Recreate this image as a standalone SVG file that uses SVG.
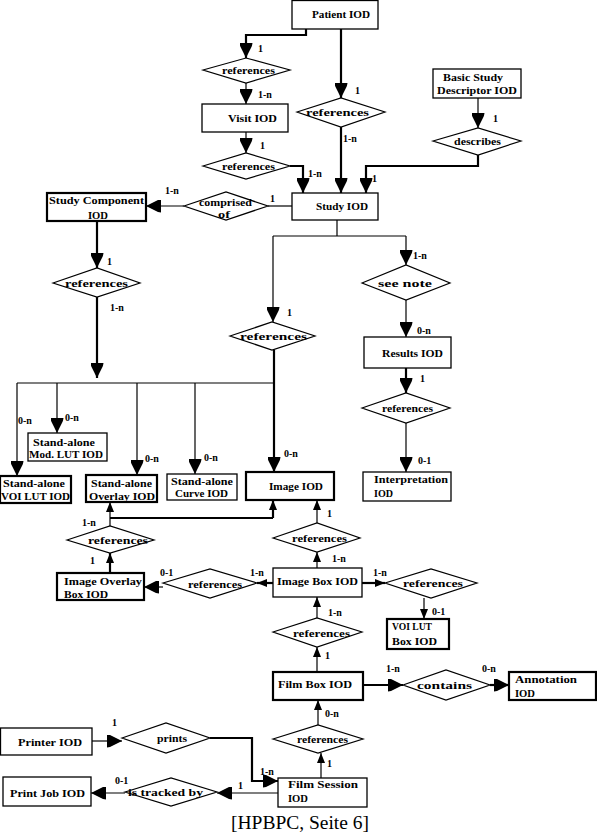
<svg xmlns="http://www.w3.org/2000/svg" width="597" height="835" viewBox="0 0 597 835">
<style>
.bx{fill:#fff;stroke:#000;stroke-width:1.3}
.bk{fill:#fff;stroke:#000;stroke-width:2.2}
.dm{fill:#fff;stroke:#000;stroke-width:1.2}
.t{font-family:"Liberation Serif","Times New Roman",serif;font-size:10.5px;font-weight:bold;fill:#000}
.l{font-family:"Liberation Serif","Times New Roman",serif;font-size:10px;font-weight:bold;fill:#000}
.c{fill:none;stroke:#000;stroke-width:1.2}
.w{fill:none;stroke:#000;stroke-width:2.2}
.cap{font-family:"Liberation Serif","Times New Roman",serif;font-size:18px;fill:#000}
</style>
<defs>
<marker id="a" markerUnits="userSpaceOnUse" markerWidth="15" markerHeight="13" viewBox="0 0 15 13" refX="15" refY="6.5" orient="auto">
<path d="M0,0 L3,0.6 L15,6.5 L3,12.4 L0,13 z" fill="#000"/>
</marker>
<marker id="s" markerUnits="userSpaceOnUse" markerWidth="10" markerHeight="8" viewBox="0 0 10 8" refX="10" refY="4" orient="auto">
<path d="M0,0 L10,4 L0,8 z" fill="#000"/>
</marker>
</defs>
<rect width="597" height="835" fill="#fff"/>

<g id="connectors">
<path class="w" d="M306,29 V35 H246 V58" marker-end="url(#a)"/>
<path class="c" d="M246,83 V104" marker-end="url(#a)"/>
<path class="c" d="M246,132 V153" marker-end="url(#a)"/>
<path class="w" d="M290,166 H303 V193" marker-end="url(#a)"/>
<path class="w" d="M341,29 V98" marker-end="url(#a)"/>
<path class="w" d="M341,127 V193" marker-end="url(#a)"/>
<path class="c" d="M478,98 V128" marker-end="url(#a)"/>
<path class="w" d="M478,155 V166 H366 V193" marker-end="url(#a)"/>
<path class="c" d="M184,206 H146" marker-end="url(#a)"/>
<path class="c" d="M292,206 H268"/>
<path class="w" d="M97,221 V268" marker-end="url(#a)"/>
<path class="w" d="M97,297 V378" marker-end="url(#a)"/>
<path class="c" d="M17,383 H274"/>
<path class="c" d="M17,383 V476" marker-end="url(#a)"/>
<path class="c" d="M57,383 V433" marker-end="url(#a)"/>
<path class="c" d="M137,383 V475" marker-end="url(#a)"/>
<path class="c" d="M195,383 V474" marker-end="url(#a)"/>
<path class="c" d="M337,220 V236 M273,236 H406"/>
<path class="c" d="M273,236 V322" marker-end="url(#a)"/>
<path class="w" d="M274,350 V472" marker-end="url(#a)"/>
<path class="c" d="M406,236 V265" marker-end="url(#a)"/>
<path class="c" d="M406,300 V337" marker-end="url(#a)"/>
<path class="w" d="M406,368 V393" marker-end="url(#a)"/>
<path class="c" d="M406,423 V472" marker-end="url(#a)"/>
<path class="w" d="M110,518 H273"/>
<path class="c" d="M110,526 V502" marker-end="url(#s)"/>
<path class="w" d="M273,518 V500" marker-end="url(#s)"/>
<path class="w" d="M110,573 V553" marker-end="url(#s)"/>
<path class="c" d="M163,587 H144" marker-end="url(#a)"/>
<path class="w" d="M273,583 H257" marker-end="url(#s)"/>
<path class="c" d="M317,568 V552" marker-end="url(#s)"/>
<path class="c" d="M317,523 V500" marker-end="url(#s)"/>
<path class="w" d="M362,583 H385" marker-end="url(#s)"/>
<path class="c" d="M424,598 V619" marker-end="url(#s)"/>
<path class="c" d="M317,618 V597" marker-end="url(#s)"/>
<path class="c" d="M317,672 V647" marker-end="url(#s)"/>
<path class="w" d="M363,685 H403" marker-end="url(#a)"/>
<path class="w" d="M490,685 H509" marker-end="url(#a)"/>
<path class="c" d="M318,725 V700" marker-end="url(#s)"/>
<path class="c" d="M321,778 V753" marker-end="url(#s)"/>
<path class="c" d="M92,741 H122" marker-end="url(#a)"/>
<path class="w" d="M210,738 H252 V781 H278" marker-end="url(#a)"/>
<path class="c" d="M278,793 H217" marker-end="url(#a)"/>
<path class="c" d="M125,793 H91" marker-end="url(#a)"/>
</g>

<g id="labels">
<text class="l" x="258" y="52">1</text>
<text class="l" x="258" y="98">1-n</text>
<text class="l" x="260" y="149">1</text>
<text class="l" x="308" y="177">1-n</text>
<text class="l" x="355" y="94">1</text>
<text class="l" x="343" y="142">1-n</text>
<text class="l" x="493" y="122">1</text>
<text class="l" x="372" y="182">1</text>
<text class="l" x="165" y="194">1-n</text>
<text class="l" x="270" y="202">1</text>
<text class="l" x="107" y="265">1</text>
<text class="l" x="110" y="311">1-n</text>
<text class="l" x="18" y="424">0-n</text>
<text class="l" x="65" y="421">0-n</text>
<text class="l" x="145" y="462">0-n</text>
<text class="l" x="204" y="461">0-n</text>
<text class="l" x="287" y="316">1</text>
<text class="l" x="284" y="457">0-n</text>
<text class="l" x="413" y="259">1-n</text>
<text class="l" x="417" y="334">0-n</text>
<text class="l" x="420" y="382">1</text>
<text class="l" x="418" y="464">0-1</text>
<text class="l" x="82" y="526">1-n</text>
<text class="l" x="90" y="564">1</text>
<text class="l" x="160" y="576">0-1</text>
<text class="l" x="250" y="576">1-n</text>
<text class="l" x="332" y="562">1-n</text>
<text class="l" x="327" y="517">1</text>
<text class="l" x="373" y="576">1-n</text>
<text class="l" x="432" y="615">0-1</text>
<text class="l" x="328" y="616">1-n</text>
<text class="l" x="325" y="659">1</text>
<text class="l" x="386" y="672">1-n</text>
<text class="l" x="482" y="672">0-n</text>
<text class="l" x="325" y="717">0-n</text>
<text class="l" x="327" y="767">1</text>
<text class="l" x="112" y="726">1</text>
<text class="l" x="260" y="775">1-n</text>
<text class="l" x="238" y="789">1</text>
<text class="l" x="115" y="784">0-1</text>
</g>

<g id="patient"><rect class="bx" x="292" y="0.5" width="86" height="28.5"/><text class="t" x="312" y="18" textLength="58" lengthAdjust="spacingAndGlyphs">Patient IOD</text></g>
<g id="visit"><rect class="bx" x="202" y="104" width="86" height="28"/><text class="t" x="228" y="122" textLength="49" lengthAdjust="spacingAndGlyphs">Visit IOD</text></g>
<g id="basic"><rect class="bx" x="433" y="69" width="88" height="29"/><text class="t" x="443" y="81" textLength="60" lengthAdjust="spacingAndGlyphs">Basic Study</text><text class="t" x="437" y="94" textLength="80" lengthAdjust="spacingAndGlyphs">Descriptor IOD</text></g>
<g id="study"><rect class="bx" x="292" y="193" width="86" height="27"/><text class="t" x="316" y="210" textLength="52" lengthAdjust="spacingAndGlyphs">Study IOD</text></g>
<g id="studycomp"><rect class="bk" x="47" y="193" width="99" height="28"/><text class="t" x="49" y="204" textLength="95" lengthAdjust="spacingAndGlyphs">Study Component</text><text class="t" x="88" y="219" textLength="20" lengthAdjust="spacingAndGlyphs">IOD</text></g>
<g id="voilut"><rect class="bk" x="0" y="476" width="71" height="27"/><text class="t" x="3" y="487" textLength="62" lengthAdjust="spacingAndGlyphs">Stand-alone</text><text class="t" x="1" y="500" textLength="69" lengthAdjust="spacingAndGlyphs">VOI LUT IOD</text></g>
<g id="modlut"><rect class="bx" x="28" y="433" width="79" height="28"/><text class="t" x="33" y="446" textLength="62" lengthAdjust="spacingAndGlyphs">Stand-alone</text><text class="t" x="29" y="458" textLength="74" lengthAdjust="spacingAndGlyphs">Mod. LUT IOD</text></g>
<g id="overlay"><rect class="bk" x="86" y="475" width="71" height="27"/><text class="t" x="91" y="487" textLength="61" lengthAdjust="spacingAndGlyphs">Stand-alone</text><text class="t" x="89" y="500" textLength="66" lengthAdjust="spacingAndGlyphs">Overlay IOD</text></g>
<g id="curve"><rect class="bx" x="167" y="474" width="70" height="26"/><text class="t" x="171" y="485" textLength="62" lengthAdjust="spacingAndGlyphs">Stand-alone</text><text class="t" x="175" y="497" textLength="53" lengthAdjust="spacingAndGlyphs">Curve IOD</text></g>
<g id="image"><rect class="bk" x="246" y="472" width="88" height="28"/><text class="t" x="269" y="490" textLength="54" lengthAdjust="spacingAndGlyphs">Image IOD</text></g>
<g id="results"><rect class="bx" x="364" y="337" width="87" height="31"/><text class="t" x="382" y="357" textLength="61" lengthAdjust="spacingAndGlyphs">Results IOD</text></g>
<g id="interp"><rect class="bx" x="363" y="472" width="88" height="29"/><text class="t" x="374" y="483" textLength="74" lengthAdjust="spacingAndGlyphs">Interpretation</text><text class="t" x="374" y="497" textLength="19" lengthAdjust="spacingAndGlyphs">IOD</text></g>
<g id="imgoverlaybox"><rect class="bk" x="57" y="573" width="87" height="27"/><text class="t" x="64" y="585" textLength="78" lengthAdjust="spacingAndGlyphs">Image Overlay</text><text class="t" x="64" y="598" textLength="44" lengthAdjust="spacingAndGlyphs">Box IOD</text></g>
<g id="imagebox"><rect class="bx" x="273" y="568" width="89" height="29"/><text class="t" x="277" y="585" textLength="81" lengthAdjust="spacingAndGlyphs">Image Box IOD</text></g>
<g id="voilutbox"><rect class="bk" x="387" y="619" width="62" height="30"/><text class="t" x="392" y="630" textLength="40" lengthAdjust="spacingAndGlyphs">VOI LUT</text><text class="t" x="392" y="645" textLength="45" lengthAdjust="spacingAndGlyphs">Box IOD</text></g>
<g id="filmbox"><rect class="bk" x="273" y="672" width="90" height="28"/><text class="t" x="278" y="688" textLength="74" lengthAdjust="spacingAndGlyphs">Film Box IOD</text></g>
<g id="annotation"><rect class="bk" x="509" y="672" width="87" height="28"/><text class="t" x="515" y="683" textLength="62" lengthAdjust="spacingAndGlyphs">Annotation</text><text class="t" x="515" y="697" textLength="20" lengthAdjust="spacingAndGlyphs">IOD</text></g>
<g id="printer"><rect class="bx" x="0.5" y="728" width="91.5" height="27"/><text class="t" x="18" y="746" textLength="64" lengthAdjust="spacingAndGlyphs">Printer IOD</text></g>
<g id="printjob"><rect class="bx" x="3" y="777" width="88" height="29"/><text class="t" x="10" y="797" textLength="75" lengthAdjust="spacingAndGlyphs">Print Job IOD</text></g>
<g id="filmsession"><rect class="bx" x="278" y="778" width="89" height="29"/><text class="t" x="288" y="788" textLength="70" lengthAdjust="spacingAndGlyphs">Film Session</text><text class="t" x="288" y="802" textLength="20" lengthAdjust="spacingAndGlyphs">IOD</text></g>

<g id="ref1"><polygon class="dm" points="203,70 246,58 290,70 246,83"/><text class="t" x="222" y="74" textLength="53" lengthAdjust="spacingAndGlyphs">references</text></g>
<g id="ref2"><polygon class="dm" points="203,166 246,153 290,166 246,179"/><text class="t" x="222" y="170" textLength="53" lengthAdjust="spacingAndGlyphs">references</text></g>
<g id="ref3"><polygon class="dm" points="297,112 341,98 385,112 341,127"/><text class="t" x="306" y="116" textLength="63" lengthAdjust="spacingAndGlyphs">references</text></g>
<g id="describes"><polygon class="dm" points="433,141 478,128 521,141 478,155"/><text class="t" x="454" y="145" textLength="47" lengthAdjust="spacingAndGlyphs">describes</text></g>
<g id="comprised"><polygon class="dm" points="184,206 226,192 268,206 226,220"/><text class="t" x="199" y="206" textLength="53" lengthAdjust="spacingAndGlyphs">comprised</text><text class="t" x="218" y="218" textLength="12" lengthAdjust="spacingAndGlyphs">of</text></g>
<g id="ref4"><polygon class="dm" points="53,283 97,268 140,283 97,297"/><text class="t" x="65" y="287" textLength="63" lengthAdjust="spacingAndGlyphs">references</text></g>
<g id="ref5"><polygon class="dm" points="230,336 272,322 315,336 272,350"/><text class="t" x="240" y="340" textLength="67" lengthAdjust="spacingAndGlyphs">references</text></g>
<g id="seenote"><polygon class="dm" points="362,283 406,265 450,283 406,300"/><text class="t" x="378" y="287" textLength="54" lengthAdjust="spacingAndGlyphs">see note</text></g>
<g id="ref6"><polygon class="dm" points="362,408 406,393 450,408 406,423"/><text class="t" x="382" y="412" textLength="51" lengthAdjust="spacingAndGlyphs">references</text></g>
<g id="ref7"><polygon class="dm" points="67,540 110,526 154,540 110,553"/><text class="t" x="88" y="544" textLength="60" lengthAdjust="spacingAndGlyphs">references</text></g>
<g id="ref8"><polygon class="dm" points="163,583 210,569 257,583 210,598"/><text class="t" x="188" y="588" textLength="54" lengthAdjust="spacingAndGlyphs">references</text></g>
<g id="ref9"><polygon class="dm" points="273,538 317,523 360,538 317,552"/><text class="t" x="292" y="542" textLength="55" lengthAdjust="spacingAndGlyphs">references</text></g>
<g id="ref10"><polygon class="dm" points="385,583 431,569 477,583 431,598"/><text class="t" x="403" y="587" textLength="60" lengthAdjust="spacingAndGlyphs">references</text></g>
<g id="ref11"><polygon class="dm" points="273,632 317,618 362,632 317,647"/><text class="t" x="293" y="637" textLength="57" lengthAdjust="spacingAndGlyphs">references</text></g>
<g id="contains"><polygon class="dm" points="403,685 446,670 490,685 446,700"/><text class="t" x="417" y="689" textLength="55" lengthAdjust="spacingAndGlyphs">contains</text></g>
<g id="ref12"><polygon class="dm" points="273,739 318,725 363,739 318,753"/><text class="t" x="297" y="743" textLength="51" lengthAdjust="spacingAndGlyphs">references</text></g>
<g id="prints"><polygon class="dm" points="122,738 166,723 210,738 166,753"/><text class="t" x="157" y="742" textLength="30" lengthAdjust="spacingAndGlyphs">prints</text></g>
<g id="tracked"><polygon class="dm" points="125,792 171,778 217,792 171,806"/><text class="t" x="128" y="796" textLength="75" lengthAdjust="spacingAndGlyphs">is tracked by</text></g>

<text class="cap" x="231" y="829" textLength="138" lengthAdjust="spacingAndGlyphs">[HPBPC, Seite 6]</text>
</svg>
